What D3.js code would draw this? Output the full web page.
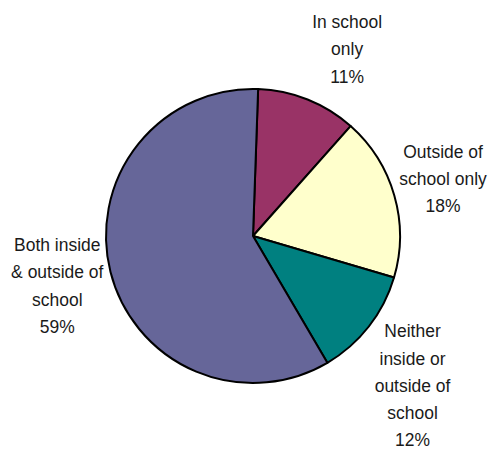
<!DOCTYPE html>
<html>
<head>
<meta charset="utf-8">
<script src="https://cdn.jsdelivr.net/npm/d3@7"></script>
<style>
  html, body { margin: 0; padding: 0; background: #fff; }
  svg { display: block; }
  text { font-family: "Liberation Sans Narrow", "Arial Narrow", "Liberation Sans", sans-serif; }
</style>
</head>
<body>
<svg id="chart" width="490" height="449"></svg>
<script>
// Data
const categories = ["In school only", "Outside of school only", "Neither inside or outside of school", "Both inside & outside of school"];
const values = [11, 18, 12, 59];
const labelLines = [
  ["In school", "only", "11%"],
  ["Outside of", "school only", "18%"],
  ["Neither", "inside or", "outside of", "school", "12%"],
  ["Both inside", "& outside of", "school", "59%"]
];
const colors = ["#993366", "#FFFFCC", "#008080", "#666699"];
// label nudges (style only)
const labelNudge = [[18, 3], [-7, -1], [-2, 23], [3, -1]];

const width = 490, height = 449;
const cx = 253, cy = 236, radius = 147;
const startDeg = 2;

const svg = d3.select("#chart");
const g = svg.append("g").attr("transform", `translate(${cx},${cy})`);

const pie = d3.pie().sort(null).value(d => d.value)
  .startAngle(startDeg * Math.PI / 180)
  .endAngle((startDeg + 360) * Math.PI / 180);
const data = categories.map((c, i) => ({ cat: c, value: values[i], i }));
const arcs = pie(data);

const arc = d3.arc().innerRadius(0).outerRadius(radius);
g.selectAll("path.slice").data(arcs).enter().append("path")
  .attr("class", "slice")
  .attr("d", arc)
  .attr("fill", d => colors[d.data.i])
  .attr("stroke", "#000")
  .attr("stroke-width", 2)
  .attr("stroke-linejoin", "round");

const labelArc = d3.arc().innerRadius(205).outerRadius(205);
const fontSize = 19, lineH = 27.3, squeeze = 0.92;
arcs.forEach(d => {
  const [x, y] = labelArc.centroid(d);
  const lines = labelLines[d.data.i];
  const nx = x + labelNudge[d.data.i][0];
  const ny = y + labelNudge[d.data.i][1];
  const t = g.append("text")
    .attr("text-anchor", "middle")
    .attr("font-size", fontSize)
    .attr("fill", "#1a1a1a")
    .attr("transform", `translate(${nx},0) scale(${squeeze},1)`);
  const y0 = ny - (lines.length - 1) * lineH / 2 + fontSize * 0.35;
  lines.forEach((ln, k) => {
    t.append("tspan").attr("x", 0).attr("y", y0 + k * lineH).text(ln);
  });
});
</script>
</body>
</html>
